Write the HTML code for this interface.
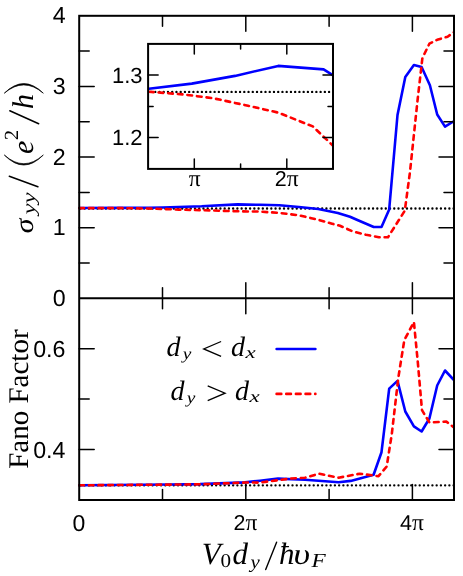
<!DOCTYPE html>
<html><head><meta charset="utf-8"><title>plot</title>
<style>html,body{margin:0;padding:0;background:#fff;}svg{display:block;will-change:transform;}text{text-rendering:geometricPrecision;}</style></head>
<body>
<svg width="463" height="576" viewBox="0 0 463 576">
<rect x="0" y="0" width="463" height="576" fill="#fff"/>
<defs><clipPath id="cm"><rect x="78.2" y="15.8" width="376.8" height="484.2"/></clipPath><clipPath id="ci"><rect x="148.1" y="43.9" width="185.9" height="125.0"/></clipPath></defs>
<line x1="453.63" y1="208.5" x2="79.2" y2="208.5" stroke="#000" stroke-width="2.35" stroke-dasharray="0.01 4.23" stroke-linecap="round" fill="none"/>
<line x1="453.63" y1="485.35" x2="79.2" y2="485.35" stroke="#000" stroke-width="2.35" stroke-dasharray="0.01 4.23" stroke-linecap="round" fill="none"/>
<polyline points="79.2,208.0 121.0,207.9 148.6,207.8 162.5,207.5 201.6,206.3 237.5,204.4 260.0,204.8 279.4,205.2 298.9,207.0 318.3,209.0 337.8,212.9 350.0,216.8 356.8,219.8 373.7,227.0 381.5,227.0 389.2,209.4 397.5,115.0 405.3,76.9 413.9,65.0 421.6,67.0 429.9,85.2 437.2,114.5 445.0,126.6 454.2,121.0" fill="none" stroke="#0000ff" stroke-width="2.6" stroke-linejoin="round" stroke-linecap="round" clip-path="url(#cm)"/>
<polyline points="79.2,208.1 121.0,208.1 152.0,208.6 179.0,209.6 210.0,210.4 237.5,211.3 260.0,211.6 279.4,212.9 298.9,215.3 318.3,219.8 332.0,223.7 340.0,225.8 353.0,231.5 366.0,234.8 378.9,237.2 388.0,237.2 404.8,210.7 410.0,171.8 414.4,130.0 417.8,98.0 422.4,58.0 429.4,43.7 437.2,39.8 447.6,36.7 454.2,32.0" fill="none" stroke="#ff0000" stroke-width="2.6" stroke-linejoin="round" stroke-linecap="round" stroke-dasharray="4.7 4.95" clip-path="url(#cm)"/>
<polyline points="79.2,485.3 170.0,484.5 200.0,484.1 245.0,482.4 260.0,480.7 278.0,478.6 305.0,479.8 338.6,482.2 350.7,480.9 373.6,474.8 381.5,452.2 389.2,388.6 397.5,380.9 405.3,411.5 413.9,426.3 421.6,431.5 429.4,418.5 437.2,385.5 445.0,370.5 454.2,380.4" fill="none" stroke="#0000ff" stroke-width="2.6" stroke-linejoin="round" stroke-linecap="round" clip-path="url(#cm)"/>
<polyline points="79.2,485.3 170.0,484.6 200.0,484.3 246.0,482.5 260.0,482.6 290.0,478.6 305.0,477.7 319.0,473.7 338.6,477.7 359.8,473.7 378.5,476.2 386.7,466.5 391.8,434.0 398.3,377.8 404.3,340.2 413.9,322.0 417.8,362.2 422.0,410.2 429.4,422.4 446.3,421.6 454.2,427.6" fill="none" stroke="#ff0000" stroke-width="2.6" stroke-linejoin="round" stroke-linecap="round" stroke-dasharray="4.7 4.95" clip-path="url(#cm)"/>
<line x1="329.1" y1="91.9" x2="148.1" y2="91.9" stroke="#000" stroke-width="2.35" stroke-dasharray="0.01 4.23" stroke-linecap="round" fill="none"/>
<polyline points="148.9,88.8 191.8,83.6 235.0,75.9 278.2,65.9 323.6,69.4 333.1,75.4" fill="none" stroke="#0000ff" stroke-width="2.6" stroke-linejoin="round" stroke-linecap="round" clip-path="url(#ci)"/>
<polyline points="148.9,91.8 183.2,94.4 213.4,98.3 248.0,105.7 278.2,112.6 312.8,126.4 333.1,145.8" fill="none" stroke="#ff0000" stroke-width="2.6" stroke-linejoin="round" stroke-linecap="round" stroke-dasharray="4.7 4.95" clip-path="url(#ci)"/>
<rect x="79.2" y="15.8" width="374.8" height="484.2" stroke="#000" stroke-width="2" fill="none"/>
<line x1="79.2" y1="298.3" x2="454.0" y2="298.3" stroke="#000" stroke-width="2" fill="none"/>
<rect x="148.1" y="43.9" width="184.9" height="125.0" stroke="#000" stroke-width="2" fill="none"/>
<line x1="245.8" y1="15.8" x2="245.8" y2="31.3" stroke="#000" stroke-width="1.5" stroke-linecap="round" fill="none"/>
<line x1="245.8" y1="298.3" x2="245.8" y2="282.8" stroke="#000" stroke-width="1.5" stroke-linecap="round" fill="none"/>
<line x1="245.8" y1="298.3" x2="245.8" y2="313.8" stroke="#000" stroke-width="1.5" stroke-linecap="round" fill="none"/>
<line x1="245.8" y1="500.0" x2="245.8" y2="484.5" stroke="#000" stroke-width="1.5" stroke-linecap="round" fill="none"/>
<line x1="412.4" y1="15.8" x2="412.4" y2="31.3" stroke="#000" stroke-width="1.5" stroke-linecap="round" fill="none"/>
<line x1="412.4" y1="298.3" x2="412.4" y2="282.8" stroke="#000" stroke-width="1.5" stroke-linecap="round" fill="none"/>
<line x1="412.4" y1="298.3" x2="412.4" y2="313.8" stroke="#000" stroke-width="1.5" stroke-linecap="round" fill="none"/>
<line x1="412.4" y1="500.0" x2="412.4" y2="484.5" stroke="#000" stroke-width="1.5" stroke-linecap="round" fill="none"/>
<line x1="162.5" y1="15.8" x2="162.5" y2="26.3" stroke="#000" stroke-width="1.5" stroke-linecap="round" fill="none"/>
<line x1="162.5" y1="298.3" x2="162.5" y2="287.8" stroke="#000" stroke-width="1.5" stroke-linecap="round" fill="none"/>
<line x1="162.5" y1="298.3" x2="162.5" y2="308.8" stroke="#000" stroke-width="1.5" stroke-linecap="round" fill="none"/>
<line x1="162.5" y1="500.0" x2="162.5" y2="489.5" stroke="#000" stroke-width="1.5" stroke-linecap="round" fill="none"/>
<line x1="329.1" y1="15.8" x2="329.1" y2="26.3" stroke="#000" stroke-width="1.5" stroke-linecap="round" fill="none"/>
<line x1="329.1" y1="298.3" x2="329.1" y2="287.8" stroke="#000" stroke-width="1.5" stroke-linecap="round" fill="none"/>
<line x1="329.1" y1="298.3" x2="329.1" y2="308.8" stroke="#000" stroke-width="1.5" stroke-linecap="round" fill="none"/>
<line x1="329.1" y1="500.0" x2="329.1" y2="489.5" stroke="#000" stroke-width="1.5" stroke-linecap="round" fill="none"/>
<line x1="79.2" y1="227.7" x2="94.2" y2="227.7" stroke="#000" stroke-width="1.5" stroke-linecap="round" fill="none"/>
<line x1="454.0" y1="227.7" x2="439.0" y2="227.7" stroke="#000" stroke-width="1.5" stroke-linecap="round" fill="none"/>
<line x1="79.2" y1="157.1" x2="94.2" y2="157.1" stroke="#000" stroke-width="1.5" stroke-linecap="round" fill="none"/>
<line x1="454.0" y1="157.1" x2="439.0" y2="157.1" stroke="#000" stroke-width="1.5" stroke-linecap="round" fill="none"/>
<line x1="79.2" y1="86.4" x2="94.2" y2="86.4" stroke="#000" stroke-width="1.5" stroke-linecap="round" fill="none"/>
<line x1="454.0" y1="86.4" x2="439.0" y2="86.4" stroke="#000" stroke-width="1.5" stroke-linecap="round" fill="none"/>
<line x1="79.2" y1="263.0" x2="89.2" y2="263.0" stroke="#000" stroke-width="1.5" stroke-linecap="round" fill="none"/>
<line x1="454.0" y1="263.0" x2="444.0" y2="263.0" stroke="#000" stroke-width="1.5" stroke-linecap="round" fill="none"/>
<line x1="79.2" y1="192.4" x2="89.2" y2="192.4" stroke="#000" stroke-width="1.5" stroke-linecap="round" fill="none"/>
<line x1="454.0" y1="192.4" x2="444.0" y2="192.4" stroke="#000" stroke-width="1.5" stroke-linecap="round" fill="none"/>
<line x1="79.2" y1="121.7" x2="89.2" y2="121.7" stroke="#000" stroke-width="1.5" stroke-linecap="round" fill="none"/>
<line x1="454.0" y1="121.7" x2="444.0" y2="121.7" stroke="#000" stroke-width="1.5" stroke-linecap="round" fill="none"/>
<line x1="79.2" y1="51.1" x2="89.2" y2="51.1" stroke="#000" stroke-width="1.5" stroke-linecap="round" fill="none"/>
<line x1="454.0" y1="51.1" x2="444.0" y2="51.1" stroke="#000" stroke-width="1.5" stroke-linecap="round" fill="none"/>
<line x1="79.2" y1="449.6" x2="94.2" y2="449.6" stroke="#000" stroke-width="1.5" stroke-linecap="round" fill="none"/>
<line x1="454.0" y1="449.6" x2="439.0" y2="449.6" stroke="#000" stroke-width="1.5" stroke-linecap="round" fill="none"/>
<line x1="79.2" y1="348.7" x2="94.2" y2="348.7" stroke="#000" stroke-width="1.5" stroke-linecap="round" fill="none"/>
<line x1="454.0" y1="348.7" x2="439.0" y2="348.7" stroke="#000" stroke-width="1.5" stroke-linecap="round" fill="none"/>
<line x1="79.2" y1="399.1" x2="89.2" y2="399.1" stroke="#000" stroke-width="1.5" stroke-linecap="round" fill="none"/>
<line x1="454.0" y1="399.1" x2="444.0" y2="399.1" stroke="#000" stroke-width="1.5" stroke-linecap="round" fill="none"/>
<line x1="194.3" y1="43.9" x2="194.3" y2="53.9" stroke="#000" stroke-width="1.5" stroke-linecap="round" fill="none"/>
<line x1="194.3" y1="168.9" x2="194.3" y2="158.9" stroke="#000" stroke-width="1.5" stroke-linecap="round" fill="none"/>
<line x1="286.8" y1="43.9" x2="286.8" y2="53.9" stroke="#000" stroke-width="1.5" stroke-linecap="round" fill="none"/>
<line x1="286.8" y1="168.9" x2="286.8" y2="158.9" stroke="#000" stroke-width="1.5" stroke-linecap="round" fill="none"/>
<line x1="240.6" y1="43.9" x2="240.6" y2="48.9" stroke="#000" stroke-width="1.5" stroke-linecap="round" fill="none"/>
<line x1="240.6" y1="168.9" x2="240.6" y2="163.9" stroke="#000" stroke-width="1.5" stroke-linecap="round" fill="none"/>
<line x1="148.1" y1="75.1" x2="158.1" y2="75.1" stroke="#000" stroke-width="1.5" stroke-linecap="round" fill="none"/>
<line x1="333.0" y1="75.1" x2="323.0" y2="75.1" stroke="#000" stroke-width="1.5" stroke-linecap="round" fill="none"/>
<line x1="148.1" y1="137.6" x2="158.1" y2="137.6" stroke="#000" stroke-width="1.5" stroke-linecap="round" fill="none"/>
<line x1="333.0" y1="137.6" x2="323.0" y2="137.6" stroke="#000" stroke-width="1.5" stroke-linecap="round" fill="none"/>
<line x1="148.1" y1="106.4" x2="153.1" y2="106.4" stroke="#000" stroke-width="1.5" stroke-linecap="round" fill="none"/>
<line x1="333.0" y1="106.4" x2="328.0" y2="106.4" stroke="#000" stroke-width="1.5" stroke-linecap="round" fill="none"/>
<text x="65.6" y="23.2" text-anchor="end" font-family="Liberation Sans, sans-serif" font-size="23.2" fill="#000">4</text>
<text x="65.6" y="93.8" text-anchor="end" font-family="Liberation Sans, sans-serif" font-size="23.2" fill="#000">3</text>
<text x="65.6" y="164.5" text-anchor="end" font-family="Liberation Sans, sans-serif" font-size="23.2" fill="#000">2</text>
<text x="65.6" y="235.1" text-anchor="end" font-family="Liberation Sans, sans-serif" font-size="23.2" fill="#000">1</text>
<text x="65.6" y="305.7" text-anchor="end" font-family="Liberation Sans, sans-serif" font-size="23.2" fill="#000">0</text>
<text x="65.4" y="356.6" text-anchor="end" font-family="Liberation Sans, sans-serif" font-size="23.2" fill="#000">0.6</text>
<text x="65.4" y="457.5" text-anchor="end" font-family="Liberation Sans, sans-serif" font-size="23.2" fill="#000">0.4</text>
<text x="72.4" y="530.9" text-anchor="start" font-family="Liberation Sans, sans-serif" font-size="23" fill="#000">0</text>
<text x="233.6" y="529.7" text-anchor="start" font-family="Liberation Sans, sans-serif" font-size="21.5" fill="#000">2<tspan font-family="Liberation Serif, serif" font-size="23.5">π</tspan></text>
<text x="400.0" y="529.7" text-anchor="start" font-family="Liberation Sans, sans-serif" font-size="21.5" fill="#000">4<tspan font-family="Liberation Serif, serif" font-size="23.5">π</tspan></text>
<text x="142.6" y="82.6" text-anchor="end" font-family="Liberation Sans, sans-serif" font-size="22" fill="#000">1.3</text>
<text x="142.6" y="145.1" text-anchor="end" font-family="Liberation Sans, sans-serif" font-size="22" fill="#000">1.2</text>
<text x="188.8" y="185.6" text-anchor="start" font-family="Liberation Sans, sans-serif" font-size="21.5" fill="#000"><tspan font-family="Liberation Serif, serif" font-size="23.5">π</tspan></text>
<text x="274.8" y="185.6" text-anchor="start" font-family="Liberation Sans, sans-serif" font-size="21.5" fill="#000">2<tspan font-family="Liberation Serif, serif" font-size="23.5">π</tspan></text>
<text transform="translate(28.0,468.8) rotate(-90)" font-family="Liberation Serif, serif" fill="#000" font-size="28.5" textLength="139.4" lengthAdjust="spacingAndGlyphs">Fano Factor</text>
<g transform="translate(32.6,236.6) rotate(-90)">
<text x="3.4" y="0.0" font-family="Liberation Serif, serif" fill="#000" font-size="27" font-style="italic" textLength="14.6" lengthAdjust="spacingAndGlyphs">σ</text>
<text x="22.0" y="2.6" font-family="Liberation Serif, serif" fill="#000" font-size="18.5" font-style="italic" textLength="22.2" lengthAdjust="spacingAndGlyphs">yy</text>
<line x1="49.9" y1="5.3" x2="60.3" y2="-23.3" stroke="#000" stroke-width="1.5" stroke-linecap="round"/>
<path d="M81.6,-28.3 Q61.6,-8.8 81.6,10.7 Q64.2,-8.8 81.6,-28.3 Z" fill="#000" stroke="#000" stroke-width="0.7" stroke-linejoin="round"/>
<text x="82.7" y="0.0" font-family="Liberation Serif, serif" fill="#000" font-size="30" font-style="italic" >e</text>
<text x="96.6" y="-14.4" font-family="Liberation Serif, serif" fill="#000" font-size="20" >2</text>
<line x1="112.9" y1="6.1" x2="125.8" y2="-22.8" stroke="#000" stroke-width="1.5" stroke-linecap="round"/>
<text x="127.5" y="0.0" font-family="Liberation Serif, serif" fill="#000" font-size="30" font-style="italic" >h</text>
<path d="M143.4,-28.3 Q162.6,-8.8 143.4,10.7 Q160.0,-8.8 143.4,-28.3 Z" fill="#000" stroke="#000" stroke-width="0.7" stroke-linejoin="round"/>
</g>
<text x="201.8" y="563.9" font-family="Liberation Serif, serif" fill="#000" font-size="31" font-style="italic" >V</text>
<text x="220.6" y="567.0" font-family="Liberation Serif, serif" fill="#000" font-size="19.5" textLength="10.6" lengthAdjust="spacingAndGlyphs">0</text>
<text x="232.6" y="563.9" font-family="Liberation Serif, serif" fill="#000" font-size="31" font-style="italic" >d</text>
<text x="250.6" y="567.5" font-family="Liberation Serif, serif" fill="#000" font-size="18.5" font-style="italic" textLength="9.3" lengthAdjust="spacingAndGlyphs">y</text>
<line x1="265.7" y1="569.6" x2="276.6" y2="542.2" stroke="#000" stroke-width="1.4" stroke-linecap="round"/>
<text x="279.0" y="563.9" font-family="Liberation Serif, serif" fill="#000" font-size="31" font-style="italic" >ħ</text>
<text x="293.4" y="563.9" font-family="Liberation Serif, serif" fill="#000" font-size="30" font-style="italic" textLength="16.6" lengthAdjust="spacingAndGlyphs">υ</text>
<text x="311.6" y="567.3" font-family="Liberation Serif, serif" fill="#000" font-size="20" font-style="italic" textLength="14.2" lengthAdjust="spacingAndGlyphs">F</text>
<text x="166.5" y="355.9" font-family="Liberation Serif, serif" fill="#000" font-size="28" font-style="italic" >d</text>
<text x="182.7" y="358.7" font-family="Liberation Serif, serif" fill="#000" font-size="16.5" font-style="italic" textLength="8.6" lengthAdjust="spacingAndGlyphs">y</text>
<polyline points="221.1,341.5 203.7,348.9 221.1,356.3" fill="none" stroke="#000" stroke-width="1.3" stroke-linejoin="miter"/>
<text x="230.9" y="355.9" font-family="Liberation Serif, serif" fill="#000" font-size="28" font-style="italic" >d</text>
<text x="245.4" y="358.1" font-family="Liberation Serif, serif" fill="#000" font-size="17" font-style="italic" textLength="10.2" lengthAdjust="spacingAndGlyphs">x</text>
<text x="170.5" y="400.2" font-family="Liberation Serif, serif" fill="#000" font-size="28" font-style="italic" >d</text>
<text x="186.7" y="403.0" font-family="Liberation Serif, serif" fill="#000" font-size="16.5" font-style="italic" textLength="8.6" lengthAdjust="spacingAndGlyphs">y</text>
<polyline points="207.7,385.8 225.1,393.2 207.7,400.6" fill="none" stroke="#000" stroke-width="1.3" stroke-linejoin="miter"/>
<text x="234.9" y="400.2" font-family="Liberation Serif, serif" fill="#000" font-size="28" font-style="italic" >d</text>
<text x="249.4" y="402.4" font-family="Liberation Serif, serif" fill="#000" font-size="17" font-style="italic" textLength="10.2" lengthAdjust="spacingAndGlyphs">x</text>
<line x1="276.6" y1="349.0" x2="315.4" y2="349.0" stroke="#0000ff" stroke-width="2.6" stroke-linecap="round"/>
<line x1="276.6" y1="393.9" x2="315.4" y2="393.9" stroke="#ff0000" stroke-width="2.6" stroke-linecap="round" stroke-dasharray="4.7 4.95"/>
</svg>
</body></html>
